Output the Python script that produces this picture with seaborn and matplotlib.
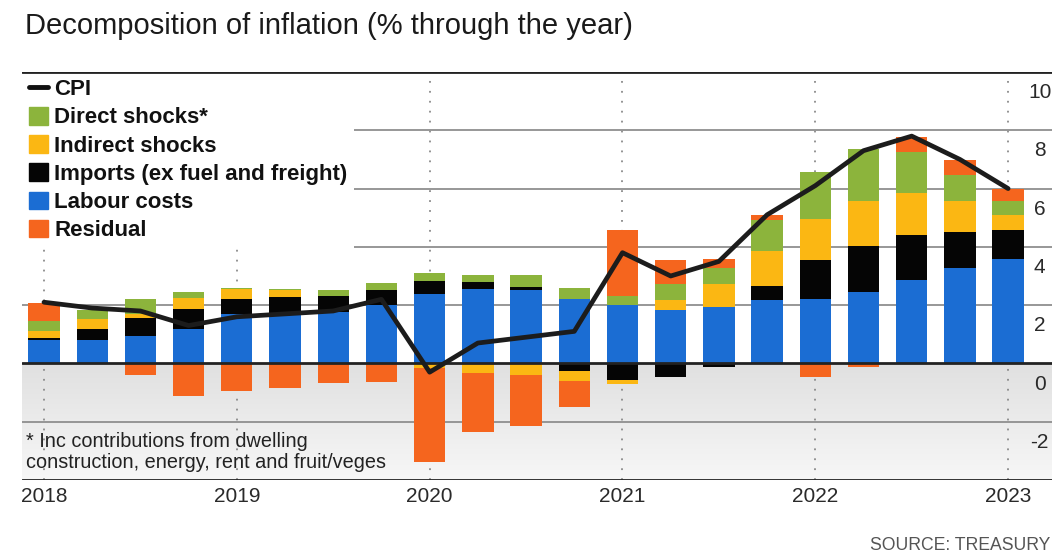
import numpy as np
import matplotlib
matplotlib.use("Agg")
import matplotlib.pyplot as plt
import seaborn as sns
from matplotlib.patches import Patch
from matplotlib.lines import Line2D
from matplotlib.colors import LinearSegmentedColormap

# ---------------- data ----------------
quarters = ["2018Q2", "2018Q3", "2018Q4", "2019Q1", "2019Q2", "2019Q3", "2019Q4",
            "2020Q1", "2020Q2", "2020Q3", "2020Q4", "2021Q1", "2021Q2", "2021Q3",
            "2021Q4", "2022Q1", "2022Q2", "2022Q3", "2022Q4", "2023Q1", "2023Q2"]
labour = [0.80, 0.80, 0.94, 1.17, 1.68, 1.74, 1.78, 2.02, 2.37, 2.56, 2.52, 2.22, 1.99, 1.85,
          1.94, 2.16, 2.22, 2.45, 2.85, 3.28, 3.59]
imports = [0.07, 0.39, 0.63, 0.71, 0.54, 0.55, 0.52, 0.49, 0.46, 0.24, 0.11, -0.26, -0.57, -0.46,
           -0.13, 0.51, 1.32, 1.58, 1.56, 1.23, 0.98]
indirect = [0.24, 0.32, 0.11, 0.38, 0.32, 0.23, 0.02, 0.00, -0.17, -0.32, -0.38, -0.34, -0.15, 0.32,
            0.77, 1.20, 1.41, 1.54, 1.43, 1.05, 0.54]
direct = [0.34, 0.34, 0.54, 0.19, 0.04, 0.03, 0.20, 0.25, 0.26, 0.25, 0.42, 0.38, 0.34, 0.54,
          0.57, 1.06, 1.62, 1.78, 1.40, 0.91, 0.46]
residual = [0.63, 0.00, -0.38, -1.13, -0.95, -0.83, -0.68, -0.64, -3.22, -2.04, -1.75, -0.91, 2.26, 0.83,
            0.31, 0.17, -0.46, -0.11, 0.53, 0.51, 0.43]
cpi = [2.1, 1.9, 1.8, 1.3, 1.6, 1.7, 1.8, 2.2, -0.3, 0.7, 0.9, 1.1, 3.8, 3.0,
       3.5, 5.1, 6.1, 7.3, 7.8, 7.0, 6.0]
year_labels = ["2018", "2019", "2020", "2021", "2022", "2023"]
y_ticks = [10, 8, 6, 4, 2, 0, -2]

title = "Decomposition of inflation (% through the year)"
footnote = ["* Inc contributions from dwelling", "construction, energy, rent and fruit/veges"]
source = "SOURCE: TREASURY"

# ---------------- style ----------------
BLUE = "#1b6dd3"
BLACK = "#050505"
YELLOW = "#fbb713"
GREEN = "#8cb43c"
ORANGE = "#f5651e"
GRID = "#8f8f8f"

sns.set_theme(style="white")
plt.rcParams["font.family"] = ["Liberation Sans", "DejaVu Sans"]

W, H = 1056, 560
fig = plt.figure(figsize=(W / 100, H / 100), dpi=100)
fig.patch.set_facecolor("white")
ax = fig.add_axes([22 / W, 80 / H, 1030 / W, 408 / H])
ax.set_facecolor("white")

x = np.arange(len(quarters))
xlim = (-0.456, 20.91)
ylim = (-4, 10)
ax.set_xlim(*xlim)
ax.set_ylim(*ylim)

# shaded negative zone (gradient)
cmap = LinearSegmentedColormap.from_list("shade", ["#f7f7f7", "#e0e0e0"])
grad = np.linspace(0, 1, 256).reshape(-1, 1)
ax.imshow(grad, extent=(xlim[0], xlim[1], ylim[0], 0), origin="lower", aspect="auto",
          cmap=cmap, zorder=0, interpolation="bicubic")

# horizontal grid lines
for v in y_ticks:
    if v in (0, 10):
        continue
    ax.axhline(v, color=GRID, lw=1.3, zorder=1)
ax.axhline(10, color="#222222", lw=2.0, zorder=6)
ax.axhline(ylim[0], color="#222222", lw=2.0, zorder=6)

# vertical dotted year lines
year_pos = [i for i, q in enumerate(quarters) if q.endswith("Q2")]
for p in year_pos:
    ax.axvline(p, color="#8a8a8a", lw=1.3, ls=(0, (1, 4.5)), zorder=0.5)

# stacked diverging bars
components = [
    ("Labour costs", labour, BLUE),
    ("Imports (ex fuel and freight)", imports, BLACK),
    ("Indirect shocks", indirect, YELLOW),
    ("Direct shocks*", direct, GREEN),
    ("Residual", residual, ORANGE),
]
pos_base = np.zeros(len(x))
neg_base = np.zeros(len(x))
for name, vals, col in components:
    v = np.asarray(vals, dtype=float)
    base = np.where(v >= 0, pos_base, neg_base)
    ax.bar(x, v, bottom=base, width=0.65, color=col, linewidth=0, zorder=2)
    pos_base = pos_base + np.where(v >= 0, v, 0)
    neg_base = neg_base + np.where(v < 0, v, 0)

ax.axhline(0, color="#222222", lw=2.0, zorder=3)

# CPI line
sns.lineplot(x=x, y=cpi, ax=ax, color="#1c1c1c", lw=3.4, zorder=4, legend=False,
             solid_joinstyle="round", solid_capstyle="round")

# axes styling
for s in ax.spines.values():
    s.set_visible(False)
ax.set_xticks(year_pos, year_labels)
ax.tick_params(axis="x", length=0, pad=5, labelsize=15, labelcolor="#2a2a2a")
ax.set_yticks([])
ax.set_xlabel("")
ax.set_ylabel("")
for v in y_ticks:
    ax.annotate(str(v), xy=(0.988, v), xycoords=("axes fraction", "data"),
                xytext=(0, -8), textcoords="offset points", ha="center", va="top",
                fontsize=15, color="#2a2a2a", zorder=7)

# legend
handles = [Line2D([0], [0], color="#111111", lw=3.5),
           Patch(color=GREEN), Patch(color=YELLOW), Patch(color=BLACK),
           Patch(color=BLUE), Patch(color=ORANGE)]
labels = ["CPI", "Direct shocks*", "Indirect shocks", "Imports (ex fuel and freight)",
          "Labour costs", "Residual"]
leg = ax.legend(handles, labels, loc="upper left", bbox_to_anchor=(0, 1),
                frameon=True, facecolor="white", edgecolor="none", framealpha=1,
                fancybox=False, borderaxespad=0, borderpad=0.3, handlelength=0.85,
                handleheight=0.85, handletextpad=0.3, labelspacing=0.3,
                prop={"weight": "bold", "size": 16})
leg.set_zorder(5)
for t in leg.get_texts():
    t.set_color("#111111")

# texts
fig.text(25 / W, 1 - 33.5 / H, title, fontsize=21, color="#1a1a1a", va="baseline", ha="left")
fig.text(26 / W, 1 - 447 / H, footnote[0], fontsize=14.3, color="#222222", va="baseline")
fig.text(26 / W, 1 - 468 / H, footnote[1], fontsize=14.3, color="#222222", va="baseline")
fig.text(1050 / W, 1 - 550 / H, source, fontsize=12.7, color="#555555", va="baseline", ha="right")

fig.savefig("out.png", dpi=100, facecolor="white")
